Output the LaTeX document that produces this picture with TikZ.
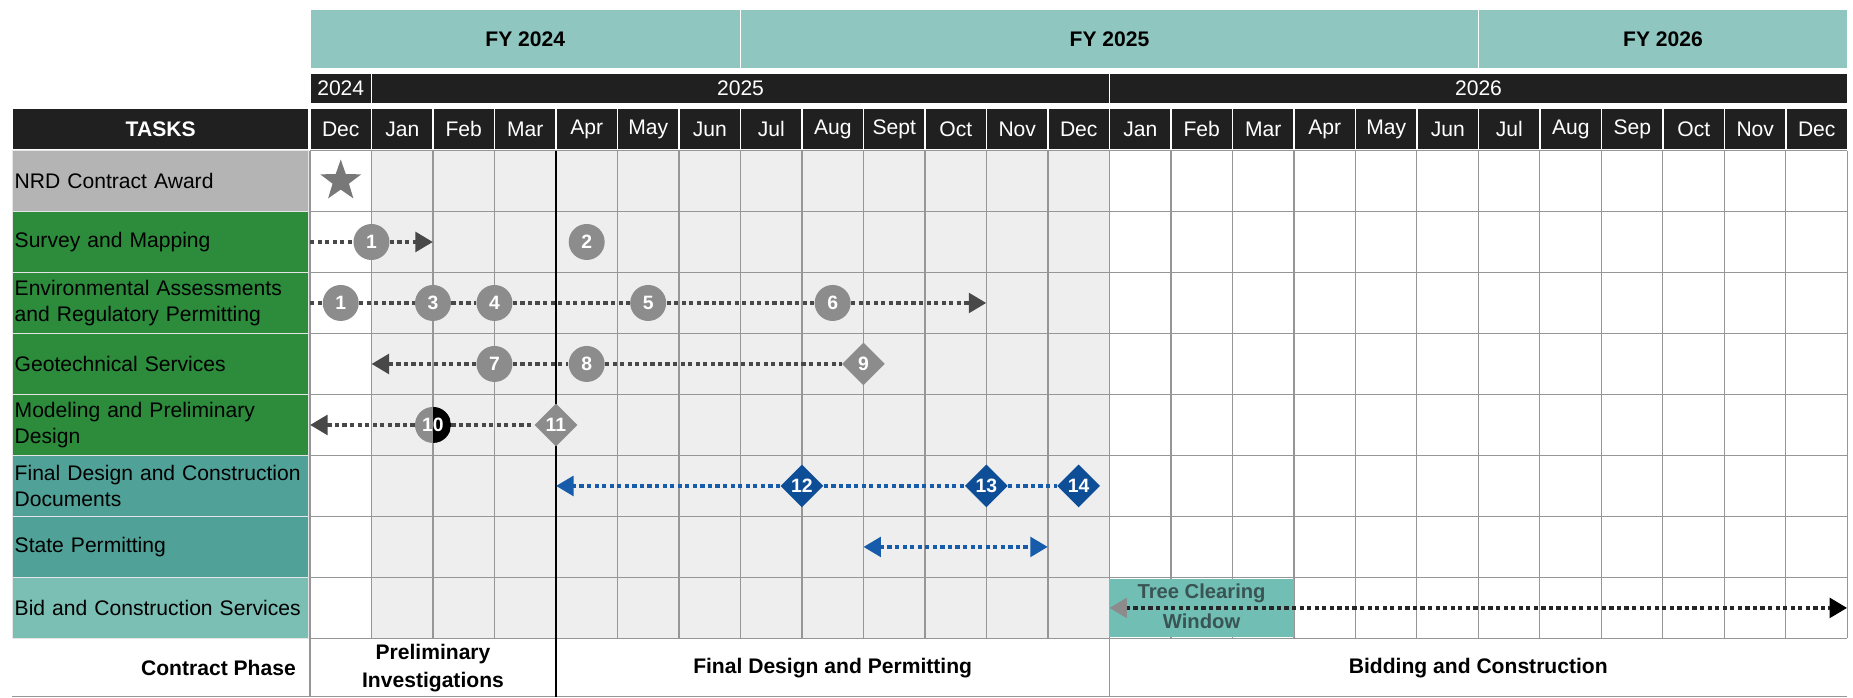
\documentclass[tikz,border=0pt]{standalone}
\usepackage{fontspec}
\setmainfont{Liberation Sans}
\usetikzlibrary{arrows.meta,shapes.geometric}

\definecolor{fyteal}{RGB}{143,198,192}
\definecolor{hdrblack}{RGB}{32,32,32}
\definecolor{taskgray}{RGB}{180,180,180}
\definecolor{taskgreen}{RGB}{44,140,60}
\definecolor{taskteal}{RGB}{80,162,152}
\definecolor{bidteal}{RGB}{122,190,180}
\definecolor{gridgray}{RGB}{150,150,150}
\definecolor{yrshade}{RGB}{238,238,238}
\definecolor{stargray}{RGB}{120,120,120}
\definecolor{mkgray}{RGB}{140,140,140}
\definecolor{mkblue}{RGB}{14,78,150}
\definecolor{dotgray}{RGB}{72,72,72}
\definecolor{dotblue}{RGB}{22,92,170}
\definecolor{treeteal}{RGB}{112,190,180}
\definecolor{treetext}{RGB}{58,84,84}

\tikzset{
  hdrcell/.style={fill=hdrblack, draw=white, line width=0.8pt, text=white, minimum height=0.83cm, inner sep=0},
  fycell/.style={fill=fyteal, draw=white, line width=0.8pt, font=\fontsize{12}{15}\selectfont\bfseries, minimum height=1.19cm, inner sep=0},
  tasklabel/.style={anchor=west, draw=white!80!gray, line width=0.8pt, minimum height=1.22cm, text width=5.84cm, inner xsep=0.04cm, align=left,
    execute at begin node={\hyphenpenalty=10000\relax}},
  mcircle/.style={circle, fill=mkgray, text=white, font=\fontsize{11}{12}\selectfont\bfseries, minimum size=0.72cm, inner sep=0},
  mdiamond/.style={diamond, fill=mkgray, text=white, font=\fontsize{11}{12}\selectfont\bfseries, minimum size=0.86cm, inner sep=0},
  bdiamond/.style={mdiamond, fill=mkblue},
  dotline/.style={draw=dotgray, line width=2.6pt, dash pattern=on 2.4pt off 1.9pt},
  bluedot/.style={dotline, draw=dotblue},
  arrowend/.style={-{Triangle[length=10pt,width=11pt]}},
  arrowboth/.style={{Triangle[length=10pt,width=11pt]}-{Triangle[length=10pt,width=11pt]}},
  phase/.style={font=\fontsize{12}{16}\selectfont\bfseries, align=center},
}

\begin{document}
\begin{tikzpicture}[x=0.02cm, y=-0.02cm, every node/.style={font=\fontsize{12}{15}\selectfont}]
  \useasboundingbox (0,0) rectangle (1853,697);

  % fiscal years
  \node[fycell, minimum width=8.61cm] (fy24) at (525.25,39.25) {FY 2024};
  \node[fycell, minimum width=14.76cm] (fy25) at (1109.5,39.25) {FY 2025};
  \node[fycell, minimum width=7.38cm] (fy26) at (1663,39.25) {FY 2026};

  % calendar years
  \node[hdrcell, minimum width=1.23cm, minimum height=0.62cm] (yr24) at (340.75,88.5) {2024};
  \node[hdrcell, minimum width=14.76cm, minimum height=0.62cm] (yr25) at (740.5,88.5) {2025};
  \node[hdrcell, minimum width=14.76cm, minimum height=0.62cm] (yr26) at (1478.5,88.5) {2026};

  % month header
  \node[hdrcell, anchor=west, minimum width=5.92cm, font=\fontsize{12}{15}\selectfont\bfseries] (tasks) at (12,129.25) {TASKS};
  \foreach \m [count=\i from 0] in {Dec,Jan,Feb,Mar,Apr,May,Jun,Jul,Aug,Sept,Oct,Nov,Dec,Jan,Feb,Mar,Apr,May,Jun,Jul,Aug,Sep,Oct,Nov,Dec}
    \node[hdrcell, minimum width=1.23cm] (mon\i) at ({340.75+61.5*\i},129.25) {\m};

  % task names
  \foreach \r/\bg/\txt in {0/taskgray/NRD Contract Award, 1/taskgreen/Survey and Mapping,
      2/taskgreen/{Environmental Assessments\\and Regulatory Permitting}, 3/taskgreen/Geotechnical Services,
      4/taskgreen/{Modeling and Preliminary\\Design}, 5/taskteal/{Final Design and Construction\\Documents},
      6/taskteal/State Permitting, 7/bidteal/Bid and Construction Services}
    \node[tasklabel, fill=\bg] (task\r) at (12,{181+61*\r}) {\txt};
  \node[font=\fontsize{12}{15}\selectfont\bfseries, anchor=east] (phase) at (302,668) {Contract Phase};

  % month grid, one unit per month and per task
  \begin{scope}[shift={(310,150.5)}, x=1.23cm, y=-1.22cm]
    \fill[yrshade] (1,0) rectangle (13,8);
    \foreach \c in {0,...,25} \draw[gridgray, line width=0.8pt] (\c,0) -- (\c,8);
    \foreach \r in {0,...,8} \draw[gridgray, line width=0.8pt] (0,\r) -- (25,\r);
    \draw[gridgray, line width=0.8pt] (0,8) -- (0,8.96) (13,8) -- (13,8.96);
    \draw[gridgray, line width=0.8pt] (-4.85,8.95) -- (25,8.95);
    \draw[line width=1.5pt] (4,0) -- (4,8.96);

    % contract award
    \node[star, star points=5, star point ratio=2.5, fill=stargray, minimum size=0.86cm, inner sep=0] (award) at (0.5,0.5) {};

    % survey and mapping
    \coordinate (sv0) at (0,1.5);
    \coordinate (sv9) at (2,1.5);
    \node[mcircle] (sv1) at (1,1.5) {1};
    \node[mcircle] (sv2) at (4.5,1.5) {2};
    \draw[dotline] (sv0) -- (sv1);
    \draw[dotline, arrowend] (sv1) -- (sv9);

    % environmental assessments
    \coordinate (ev0) at (0,2.5);
    \coordinate (ev9) at (11,2.5);
    \node[mcircle] (ev1) at (0.5,2.5) {1};
    \node[mcircle] (ev3) at (2,2.5) {3};
    \node[mcircle] (ev4) at (3,2.5) {4};
    \node[mcircle] (ev5) at (5.5,2.5) {5};
    \node[mcircle] (ev6) at (8.5,2.5) {6};
    \draw[dotline] (ev0) -- (ev1) (ev1) -- (ev3) (ev3) -- (ev4) (ev4) -- (ev5) (ev5) -- (ev6);
    \draw[dotline, arrowend] (ev6) -- (ev9);

    % geotechnical services
    \coordinate (gt0) at (1,3.5);
    \node[mcircle] (gt7) at (3,3.5) {7};
    \node[mcircle] (gt8) at (4.5,3.5) {8};
    \node[mdiamond] (gt9) at (9,3.5) {9};
    \draw[dotline, arrowend] (gt7) -- (gt0);
    \draw[dotline] (gt7) -- (gt8) (gt8) -- (gt9);

    % modeling
    \coordinate (md0) at (0,4.5);
    \node[mcircle, path picture={\fill[black] (path picture bounding box.north) rectangle (path picture bounding box.south east);}] (md10) at (2,4.5) {10};
    \node[mdiamond] (md11) at (4,4.5) {11};
    \draw[dotline, arrowend] (md10) -- (md0);
    \draw[dotline] (md10) -- (md11);

    % final design
    \coordinate (fd0) at (4,5.5);
    \node[bdiamond] (fd12) at (8,5.5) {12};
    \node[bdiamond] (fd13) at (11,5.5) {13};
    \node[bdiamond] (fd14) at (12.5,5.5) {14};
    \draw[bluedot, arrowend] (fd12) -- (fd0);
    \draw[bluedot] (fd12) -- (fd13) (fd13) -- (fd14);

    % state permitting
    \coordinate (sp0) at (9,6.5);
    \coordinate (sp1) at (12,6.5);
    \draw[bluedot, arrowboth] (sp0) -- (sp1);

    % bid and construction
    \fill[treeteal] (13,7.03) rectangle (16,7.97);
    \coordinate (bc0) at (13,7.5);
    \coordinate (bc1) at (25,7.5);
    \draw[dotline, draw=black!85, {Triangle[length=10pt,width=11pt,color=mkgray]}-{Triangle[length=10pt,width=11pt,color=black]}] (bc0) -- (bc1);
    \node[font=\fontsize{11.5}{17}\selectfont\bfseries, text=treetext, align=center] (tree) at (14.5,7.47) {Tree Clearing\\Window};

    % contract phases
    \node[phase] (prelim) at (2,8.48) {Preliminary\\Investigations};
    \node[phase] (final) at (8.5,8.48) {Final Design and Permitting};
    \node[phase] (bidding) at (19,8.48) {Bidding and Construction};
  \end{scope}
\end{tikzpicture}
\end{document}
